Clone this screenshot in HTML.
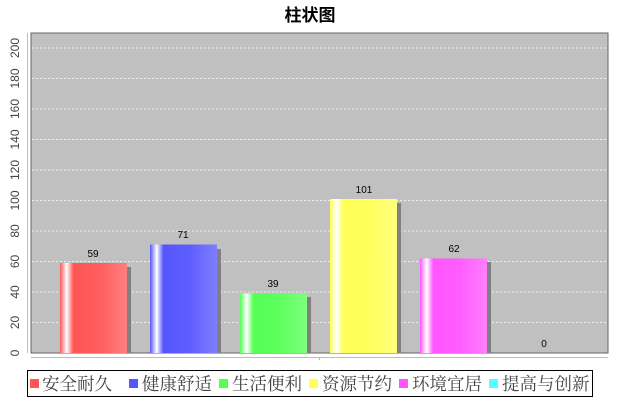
<!DOCTYPE html>
<html><head><meta charset="utf-8"><style>
html,body{margin:0;padding:0;background:#fff;}
svg text{font-family:"Liberation Sans","Noto Sans CJK SC",sans-serif;}
svg text.leg{font-family:"Liberation Serif","Noto Serif CJK SC",serif;}
</style></head><body>
<svg width="620" height="400" xmlns="http://www.w3.org/2000/svg">
<defs>
<linearGradient id="gr" x1="0" x2="1" y1="0" y2="0"><stop offset="0" stop-color="#ff5555"/><stop offset="0.1" stop-color="#ffffff"/><stop offset="0.2" stop-color="#ff5555"/><stop offset="0.6" stop-color="#ff5e5e"/><stop offset="1" stop-color="#ff7f7f"/></linearGradient>
<linearGradient id="gb" x1="0" x2="1" y1="0" y2="0"><stop offset="0" stop-color="#5555ff"/><stop offset="0.1" stop-color="#ffffff"/><stop offset="0.2" stop-color="#5555ff"/><stop offset="0.6" stop-color="#5e5eff"/><stop offset="1" stop-color="#7f7fff"/></linearGradient>
<linearGradient id="gg" x1="0" x2="1" y1="0" y2="0"><stop offset="0" stop-color="#55ff55"/><stop offset="0.1" stop-color="#ffffff"/><stop offset="0.2" stop-color="#55ff55"/><stop offset="0.6" stop-color="#5eff5e"/><stop offset="1" stop-color="#7fff7f"/></linearGradient>
<linearGradient id="gy" x1="0" x2="1" y1="0" y2="0"><stop offset="0" stop-color="#ffff55"/><stop offset="0.1" stop-color="#ffffff"/><stop offset="0.2" stop-color="#ffff55"/><stop offset="0.6" stop-color="#ffff5e"/><stop offset="1" stop-color="#ffff7f"/></linearGradient>
<linearGradient id="gm" x1="0" x2="1" y1="0" y2="0"><stop offset="0" stop-color="#ff55ff"/><stop offset="0.1" stop-color="#ffffff"/><stop offset="0.2" stop-color="#ff55ff"/><stop offset="0.6" stop-color="#ff5eff"/><stop offset="1" stop-color="#ff7fff"/></linearGradient>
</defs>
<text x="310" y="21" font-size="17" font-weight="bold" text-anchor="middle" fill="#000">柱状图</text>
<rect x="31" y="33" width="577" height="320" fill="#c0c0c0" stroke="#666" stroke-width="1"/>
<g stroke="#eee" stroke-dasharray="2,2" stroke-width="1">
<line x1="32" x2="608" y1="322.5" y2="322.5"/><line x1="32" x2="608" y1="292" y2="292"/>
<line x1="32" x2="608" y1="261.5" y2="261.5"/><line x1="32" x2="608" y1="231" y2="231"/>
<line x1="32" x2="608" y1="200.5" y2="200.5"/><line x1="32" x2="608" y1="170" y2="170"/>
<line x1="32" x2="608" y1="139.5" y2="139.5"/><line x1="32" x2="608" y1="109" y2="109"/>
<line x1="32" x2="608" y1="78.5" y2="78.5"/><line x1="32" x2="608" y1="48" y2="48"/>
</g>
<line x1="27.5" y1="33" x2="27.5" y2="353" stroke="#bbb"/>
<line x1="31" y1="357.5" x2="608" y2="357.5" stroke="#bbb"/>
<line x1="319.5" y1="357" x2="319.5" y2="360" stroke="#bbb"/>
<g font-size="12" fill="#444" text-anchor="middle">
<text transform="translate(19,353) rotate(-90)">0</text>
<text transform="translate(19,322.5) rotate(-90)">20</text>
<text transform="translate(19,292) rotate(-90)">40</text>
<text transform="translate(19,261.5) rotate(-90)">60</text>
<text transform="translate(19,231) rotate(-90)">80</text>
<text transform="translate(19,200.5) rotate(-90)">100</text>
<text transform="translate(19,170) rotate(-90)">120</text>
<text transform="translate(19,139.5) rotate(-90)">140</text>
<text transform="translate(19,109) rotate(-90)">160</text>
<text transform="translate(19,78.5) rotate(-90)">180</text>
<text transform="translate(19,48) rotate(-90)">200</text>
</g>
<g fill="#808080">
<rect x="64" y="267" width="67" height="86"/>
<rect x="154" y="249" width="67" height="104"/>
<rect x="244" y="297" width="67" height="56"/>
<rect x="334" y="203" width="67" height="150"/>
<rect x="424" y="262" width="67" height="91"/>
</g>
<rect x="60" y="263" width="67" height="90" fill="url(#gr)"/>
<rect x="150" y="244.5" width="67" height="108.5" fill="url(#gb)"/>
<rect x="240" y="293.5" width="67" height="59.5" fill="url(#gg)"/>
<rect x="330" y="199" width="67" height="154" fill="url(#gy)"/>
<rect x="420" y="258.5" width="67" height="94.5" fill="url(#gm)"/>
<g font-size="10" fill="#000" text-anchor="middle">
<text x="93" y="257">59</text><text x="183" y="238">71</text><text x="273" y="287">39</text>
<text x="364" y="193">101</text><text x="454" y="252">62</text><text x="544" y="347">0</text>
</g>
<rect x="27.5" y="370.5" width="565" height="26" fill="#fff" stroke="#000"/>
<g font-size="17.5" fill="#444">
<rect x="30" y="379" width="9" height="9" fill="#ff5555"/><text class="leg" x="42" y="390">安全耐久</text>
<rect x="129" y="379" width="9" height="9" fill="#5555ff"/><text class="leg" x="142" y="390">健康舒适</text>
<rect x="219" y="379" width="9" height="9" fill="#55ff55"/><text class="leg" x="232" y="390">生活便利</text>
<rect x="309" y="379" width="9" height="9" fill="#ffff55"/><text class="leg" x="322" y="390">资源节约</text>
<rect x="399" y="379" width="9" height="9" fill="#ff55ff"/><text class="leg" x="412" y="390">环境宜居</text>
<rect x="489" y="379" width="9" height="9" fill="#55ffff"/><text class="leg" x="502" y="390">提高与创新</text>
</g>
</svg>
</body></html>
